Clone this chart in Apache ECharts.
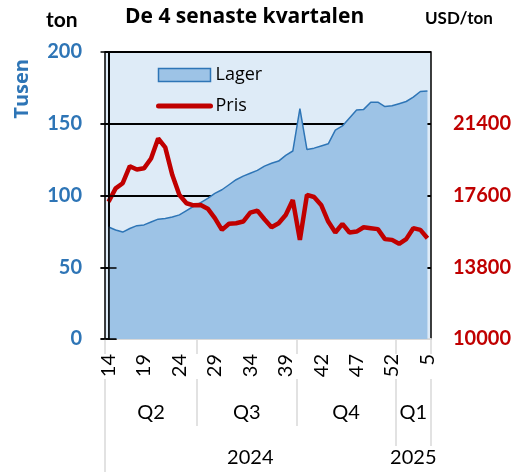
<!DOCTYPE html>
<html>
<head>
<meta charset="utf-8">
<script src="https://cdn.jsdelivr.net/npm/echarts@6/dist/echarts.min.js"></script>
<style>
  html, body { margin: 0; padding: 0; background: #fff; }
  #chart { width: 530px; height: 473px; }
</style>
</head>
<body>
<div id="chart"></div>
<script>
// veckor (en punkt per observation, 39/40/41 förekommer dubbelt i källan)
const weeks = [14, 15, 16, 17, 18, 19, 20, 21, 22, 23, 24, 25, 26,
  27, 28, 29, 30, 31, 32, 33, 34, 35, 36, 37, 38, 39, 39,
  40, 40, 41, 42, 43, 44, 45, 46, 47, 48, 49, 50, 51, 52,
  1, 2, 3, 4, 5]

// Lager, tusen ton
const lager = [78, 76, 74.5, 77, 79, 79.5, 81.5, 83.5, 84, 85, 86.5, 89.5, 92.5,
  95, 98, 101.5, 104, 107.5, 111, 113.5, 115.5, 117.5, 120.5, 122.5, 124, 128, 131,
  160.5, 132, 133, 134.5, 136, 145.5, 148.5, 154, 159.5, 160, 165, 165, 162, 162.5,
  164, 165.5, 168.5, 172.5, 172.8]

// Pris, USD/ton
const pris = [17270, 17980, 18250, 19150, 18980, 19040, 19560, 20620, 20150, 18680, 17630, 17190, 17080,
  17100, 16900, 16400, 15780, 16100, 16130, 16220, 16690, 16800, 16340, 15920, 16130, 16570, 17360,
  15250, 17630, 17520, 17100, 16220, 15640, 16100, 15640, 15690, 15920, 15870, 15820, 15290, 15250,
  15040, 15290, 15870, 15780, 15340]

const quarterNames = ['Q2', 'Q3', 'Q4', 'Q1']
const quarterSizes = [13, 14, 14, 5]
const yearNames = ['2024', '2025']
const yearSizes = [41, 5]

const leftTicks = { min: 0, max: 200, interval: 50 }
const rightTicks = [10000, 13800, 17600, 21400]
const rightMax = 25200

const FONT = 'Lato, "Open Sans", sans-serif'
const WIDE = '"Open Sans", Lato, sans-serif'
const BLUE = '#2E75B6'
const RED = '#C00000'
const SEP = '#d9d9d9'

// gränser och mittpunkter för grupperna (i kategoriindex)
const groups = (sizes) => {
  const bounds = [-0.5]
  const centers = []
  let start = 0
  sizes.forEach((s) => {
    centers.push(start + (s - 1) / 2)
    start += s
    bounds.push(start - 0.5)
  })
  return { bounds, centers }
}
const q = groups(quarterSizes)
const y = groups(yearSizes)
const n = weeks.length

const groupAxis = (offset, ticks, tickLen, centers, names, margin) => ({
  type: 'value',
  gridIndex: 0,
  position: 'bottom',
  offset: offset,
  min: -0.5,
  max: n - 0.5,
  axisLine: { show: false },
  splitLine: { show: false },
  axisTick: {
    show: ticks.length > 0,
    customValues: ticks,
    length: tickLen,
    lineStyle: { color: SEP, width: 1.5 },
  },
  axisLabel: {
    show: !!centers,
    customValues: centers || [],
    margin: margin || 8,
    fontFamily: FONT,
    fontSize: 20,
    color: '#000',
    formatter: (v) => {
      const i = (centers || []).findIndex(c => Math.abs(c - v) < 1e-6)
      return i >= 0 ? names[i] : ''
    },
  },
})

const chart = echarts.init(document.getElementById('chart'))

chart.setOption({
  animation: false,
  title: [
    { text: 'ton', left: 41, top: 5, textStyle: { fontFamily: FONT, fontSize: 21, fontWeight: 'bold', color: '#000' } },
    { text: 'De 4 senaste kvartalen', left: 120, top: 2, textStyle: { fontFamily: WIDE, fontSize: 21, fontWeight: 'bold', color: '#000' } },
    { text: 'USD/ton', left: 420, top: 5, textStyle: { fontFamily: FONT, fontSize: 17, fontWeight: 'bold', color: '#000' } },
  ],
  graphic: [
    {
      type: 'text',
      left: 12,
      top: 59,
      rotation: Math.PI / 2,
      style: { text: 'Tusen', font: 'bold 20px ' + WIDE, fill: BLUE },
    },
  ],
  legend: {
    orient: 'vertical',
    left: 151,
    top: 61,
    itemWidth: 52,
    itemHeight: 13,
    itemGap: 13,
    textStyle: { fontFamily: WIDE, fontSize: 18, color: '#000' },
    data: [
      { name: 'Lager', icon: 'rect', itemStyle: { color: '#9DC3E6', borderColor: BLUE, borderWidth: 1.5 } },
      { name: 'Pris', itemStyle: { opacity: 0 }, lineStyle: { width: 5, cap: 'round' } },
    ],
  },
  grid: {
    left: 105,
    right: 99,
    top: 52,
    bottom: 134,
    show: true,
    backgroundColor: '#DEEBF7',
    borderColor: '#000',
    borderWidth: 1.5,
    outerBoundsMode: 'none',
  },
  xAxis: [
    {
      type: 'category',
      data: weeks,
      boundaryGap: true,
      axisLine: { lineStyle: { color: SEP, width: 2 } },
      axisTick: { show: false },
      axisLabel: {
        interval: 4,
        rotate: 90,
        margin: 15,
        fontFamily: FONT,
        fontSize: 20,
        color: '#000',
      },
    },
    groupAxis(0, q.bounds, 15, q.centers, quarterNames, 64),
    groupAxis(40, q.bounds, 47, null, null),
    groupAxis(40, y.bounds.slice(1), 67, y.centers, yearNames, 69),
    groupAxis(40, [-0.5], 93, null, null),
  ],
  yAxis: [
    {
      type: 'value',
      position: 'left',
      min: leftTicks.min,
      max: leftTicks.max,
      interval: leftTicks.interval,
      axisLine: { show: true, lineStyle: { color: '#000', width: 1.5 } },
      axisTick: { show: true, length: 8, lineStyle: { color: '#000', width: 1.5 } },
      splitLine: { show: true, lineStyle: { color: '#000', width: 2 } },
      axisLabel: { margin: 23, fontFamily: FONT, fontSize: 20, fontWeight: 'bold', color: BLUE },
    },
    {
      type: 'value',
      position: 'right',
      min: rightTicks[0],
      max: rightMax,
      axisLine: { show: true, lineStyle: { color: '#000', width: 1.5 } },
      axisTick: { show: true, customValues: rightTicks, length: 8, lineStyle: { color: '#000', width: 1.5 } },
      splitLine: { show: false },
      axisLabel: {
        customValues: rightTicks,
        margin: 22,
        fontFamily: FONT,
        fontSize: 20,
        fontWeight: 'bold',
        color: RED,
        formatter: v => String(v),
      },
    },
    {
      type: 'value',
      position: 'left',
      z: 5,
      min: leftTicks.min,
      max: leftTicks.max,
      interval: leftTicks.interval,
      axisLine: { show: false },
      axisTick: { show: true, inside: true, length: 8, lineStyle: { color: '#000', width: 1.5 } },
      splitLine: { show: false },
      axisLabel: { show: false },
    },
    {
      type: 'value',
      position: 'right',
      z: 5,
      min: rightTicks[0],
      max: rightMax,
      axisLine: { show: true, lineStyle: { color: '#000', width: 1.5 } },
      axisTick: { show: true, inside: true, customValues: rightTicks, length: 8, lineStyle: { color: '#000', width: 1.5 } },
      splitLine: { show: false },
      axisLabel: { show: false },
    },
  ],
  series: [
    {
      name: 'Lager',
      type: 'line',
      xAxisIndex: 0,
      yAxisIndex: 0,
      data: lager,
      symbol: 'none',
      lineStyle: { color: BLUE, width: 1.5 },
      itemStyle: { color: '#9DC3E6', borderColor: BLUE },
      areaStyle: { color: '#9DC3E6', opacity: 1 },
    },
    {
      name: 'Pris',
      type: 'line',
      xAxisIndex: 0,
      yAxisIndex: 1,
      data: pris,
      symbol: 'none',
      lineStyle: { color: RED, width: 4.5 },
      itemStyle: { color: RED },
    },
  ],
})
</script>
</body>
</html>
